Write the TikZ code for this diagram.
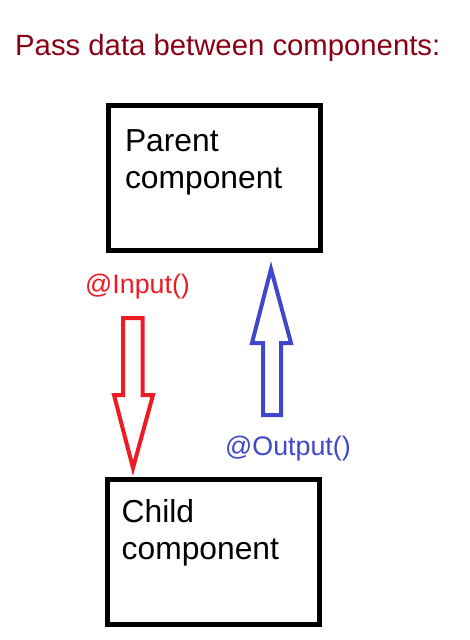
\documentclass[tikz,border=0pt]{standalone}
\usepackage{fontspec}
\setmainfont{Liberation Sans}
\definecolor{titlered}{RGB}{136,0,21}
\definecolor{inred}{RGB}{237,28,36}
\definecolor{outblue}{RGB}{63,72,204}
\begin{document}
\begin{tikzpicture}[x=1pt,y=-1pt,
  comp/.style={draw,line width=5pt,inner sep=0pt,minimum width=212pt,minimum height=145pt},
  comptext/.style={anchor=north west,inner sep=0pt,align=left,font=\fontsize{31.8}{37}\selectfont},
  lbl/.style={anchor=base west,inner sep=0pt,font=\fontsize{26.8}{30}\selectfont},
  blockarrow/.style={line width=4pt,line join=miter}]
\useasboundingbox (0,0) rectangle (470,640);
\node[anchor=base west,inner sep=0pt,text=titlered,font=\fontsize{29.3}{33}\selectfont] (title) at (15,55) {Pass data between components:};
\node[comp] (parent) at (214.5,178) {}; \node[comptext] (parenttext) at (124.8,129.5) {Parent\\component};
\node[comp] (child) at (213.5,551.5) {}; \node[comptext] (childtext) at (121.5,499) {Child\\component};
\node[lbl,text=inred] (input) at (85,293) {@Input()};
\node[lbl,text=outblue] (output) at (225,455) {@Output()};
% input arrow, parent to child
\draw[blockarrow,inred] (123,318) -- (142.5,318) -- (142.5,395) -- (153,395) -- (133,468) -- (114,395) -- (123,395) -- cycle;
% output arrow, child to parent
\draw[blockarrow,outblue] (263,415) -- (281,415) -- (281,343) -- (291,343) -- (271,269) -- (252,343) -- (263,343) -- cycle;
\end{tikzpicture}
\end{document}
